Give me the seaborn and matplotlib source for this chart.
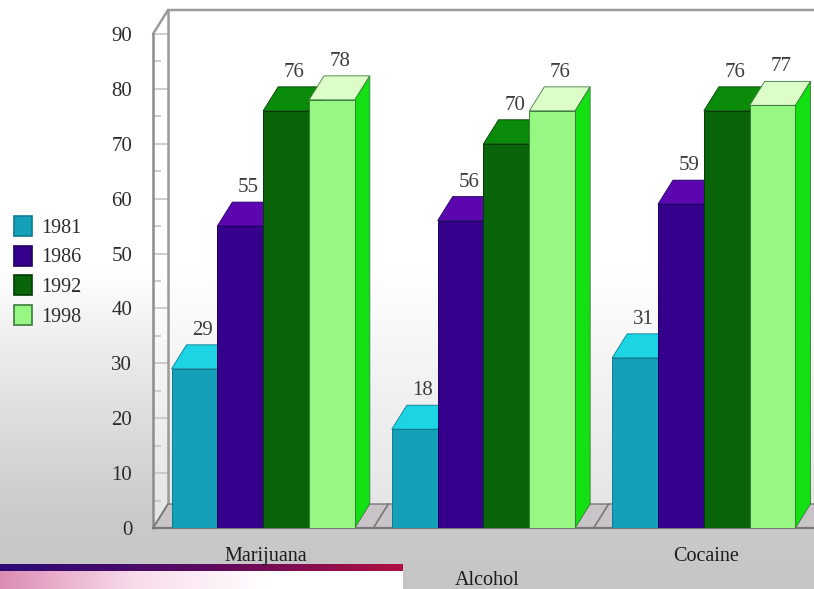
import numpy as np
import pandas as pd
import matplotlib
matplotlib.use("Agg")
import matplotlib.pyplot as plt
from matplotlib.colors import LinearSegmentedColormap
from matplotlib.patches import Polygon, Patch
import seaborn as sns

substances = ["Marijuana", "Alcohol", "Cocaine"]
years = ["1981", "1986", "1992", "1998"]
values_1981 = [29, 18, 31]
values_1986 = [55, 56, 59]
values_1992 = [76, 70, 76]
values_1998 = [78, 76, 77]

front_colors = ["#14a0b8", "#35008c", "#0a640a", "#96f882"]
top_colors = ["#1cd4e4", "#5c06b0", "#0a8c0a", "#dcfcc8"]
side_colors = ["#12b8c8", "#4a00a0", "#0a7c0a", "#12e012"]
edge_colors = ["#0c7c90", "#1c0060", "#033c03", "#3c7c3c"]

W, H = 814, 589
sns.set_theme(style="white")
plt.rcParams["font.family"] = ["Liberation Serif", "DejaVu Serif"]

frame = pd.DataFrame({
    "substance": substances * 4,
    "year": np.repeat(years, 3),
    "percent": values_1981 + values_1986 + values_1992 + values_1998,
})

fig = plt.figure(figsize=(W / 100, H / 100), dpi=100)

# Page background: white fading into grey towards the bottom
bg = fig.add_axes([0, 0, 1, 1], zorder=0)
shade = np.interp(np.linspace(0, 1, 589), [0, 0.45, 0.68, 0.88, 1], [1, 1, 0.88, 0.79, 0.77])
bg.imshow(shade[:, None], cmap="gray", vmin=0, vmax=1, aspect="auto", extent=[0, W, H, 0])

# Decorative footer: rule and pale band under it
rule = LinearSegmentedColormap.from_list("rule", ["#2a0a78", "#5a0a60", "#b01040"])
band = LinearSegmentedColormap.from_list("band", ["#dc8cb4", "#f8dcec", "#ffffff", "#ffffff"])
grad = np.linspace(0, 1, 256)[None, :]
bg.imshow(grad, cmap=band, aspect="auto", extent=[0, 403, H, 571])
bg.imshow(grad, cmap=rule, aspect="auto", extent=[0, 403, 571, 564])
bg.set_xlim(0, W)
bg.set_ylim(H, 0)
bg.axis("off")

# Plot area spans pixel x 153-814 and y 34-528
ax = fig.add_axes([153 / W, 1 - 528 / H, 661 / W, 494 / H], zorder=1)
ax.patch.set_alpha(0)
sns.barplot(data=frame, x="substance", y="percent", hue="year", order=substances,
            hue_order=years, palette=front_colors, width=0.832, gap=0, saturation=1,
            dodge=True, legend=False, linewidth=0.7, ax=ax, zorder=5)
ax.set_xlim(-0.5, 2.5)
ax.set_ylim(0, 90)
ax.set_xlabel("")
ax.set_ylabel("")
for s in ax.spines.values():
    s.set_visible(False)

# Depth of the extruded view, in data units
dx, dy = 15 / 220.3, 24 / 5.49
wall = "#8c8c8c"

# Translucent walls lighten the page shading behind the bars
ax.add_patch(Polygon([[-0.5 + dx, dy], [2.5 + dx, dy], [2.5 + dx, 90 + dy], [-0.5 + dx, 90 + dy]],
                     closed=True, facecolor="white", alpha=0.5, edgecolor="none", zorder=1,
                     clip_on=False))
ax.add_patch(Polygon([[-0.5, 0], [-0.5 + dx, dy], [-0.5 + dx, 90 + dy], [-0.5, 90]],
                     closed=True, facecolor="white", alpha=0.5, edgecolor="none", zorder=1,
                     clip_on=False))

# Back wall and side wall outlines
ax.plot([-0.5, -0.5 + dx, 2.5], [90, 90 + dy, 90 + dy], color="#9a9a9a",
        lw=1.8, clip_on=False, zorder=2)
ax.plot([-0.5 + dx, -0.5 + dx], [dy, 90 + dy], color="#9a9a9a", lw=1.8, clip_on=False, zorder=2)
ax.plot([-0.5, -0.5], [0, 90], color=wall, lw=1.8, clip_on=False, zorder=2)
ax.plot([-0.5, 2.5], [0, 0], color="#777777", lw=1.6, clip_on=False, zorder=4)

# Floor visible between the groups
ax.add_patch(Polygon([[-0.5, 0], [2.5, 0], [2.5 + dx, dy], [-0.5 + dx, dy]], closed=True,
                     facecolor="#c8c4c8", edgecolor="#777777", lw=1, zorder=2))
for i in range(4):
    ax.plot([i - 0.5, i - 0.5 + dx], [0, dy], color="#777777", lw=1.2, zorder=3)

# Draw the top and side faces of every bar, then its value
for k, cont in enumerate(ax.containers):
    for rect in cont.patches:
        x0, x1, h = rect.get_x(), rect.get_x() + rect.get_width(), rect.get_height()
        z = 5 + k * 0.1 + 0.01
        rect.set_zorder(z + 0.02)
        rect.set_edgecolor(edge_colors[k])
        ax.add_patch(Polygon([[x0, h], [x1, h], [x1 + dx, h + dy], [x0 + dx, h + dy]], closed=True,
                             facecolor=top_colors[k], edgecolor=edge_colors[k], lw=0.6, zorder=z))
        ax.add_patch(Polygon([[x1, 0], [x1 + dx, dy], [x1 + dx, h + dy], [x1, h]], closed=True,
                             facecolor=side_colors[k], edgecolor=edge_colors[k], lw=0.6, zorder=z))
        ax.text((x0 + x1) / 2 + dx * 0.55, h + dy + 0.9, f"{h:.0f}", ha="center", va="bottom",
                fontsize=15, color="#3c3c3c", zorder=9, clip_on=False)

# Value axis with major and minor ticks on the side wall
ax.set_yticks(np.arange(0, 91, 10))
ax.set_yticks(np.arange(5, 90, 10), minor=True)
ax.tick_params(axis="y", which="major", direction="in", length=10.8, width=1.2, color=wall,
               labelsize=15, labelcolor="#2c2c2c", pad=15, left=True)
ax.tick_params(axis="y", which="minor", direction="in", length=5.8, width=1.2, color=wall, left=True)

# Category names sit slightly right of centre; Alcohol drops to a lower row
ax.set_xticks([0.012, 1.016, 2.01])
ax.set_xticklabels(substances)
ax.tick_params(axis="x", bottom=False, labelsize=14.5, labelcolor="#1c1c1c", pad=7.5)
ax.get_xticklabels()[1].set_y(-0.05)

handles = [Patch(facecolor=c, edgecolor=e, lw=1.2) for c, e in zip(front_colors, edge_colors)]
fig.legend(handles, years, loc="upper left", bbox_to_anchor=(8 / W, 1 - 210 / H), frameon=False,
           fontsize=14.5, labelcolor="#2c2c2c", handlelength=0.9, handleheight=1.16,
           handletextpad=0.45, labelspacing=0.38, borderpad=0.3, borderaxespad=0)

fig.savefig("out.png", dpi=100)
